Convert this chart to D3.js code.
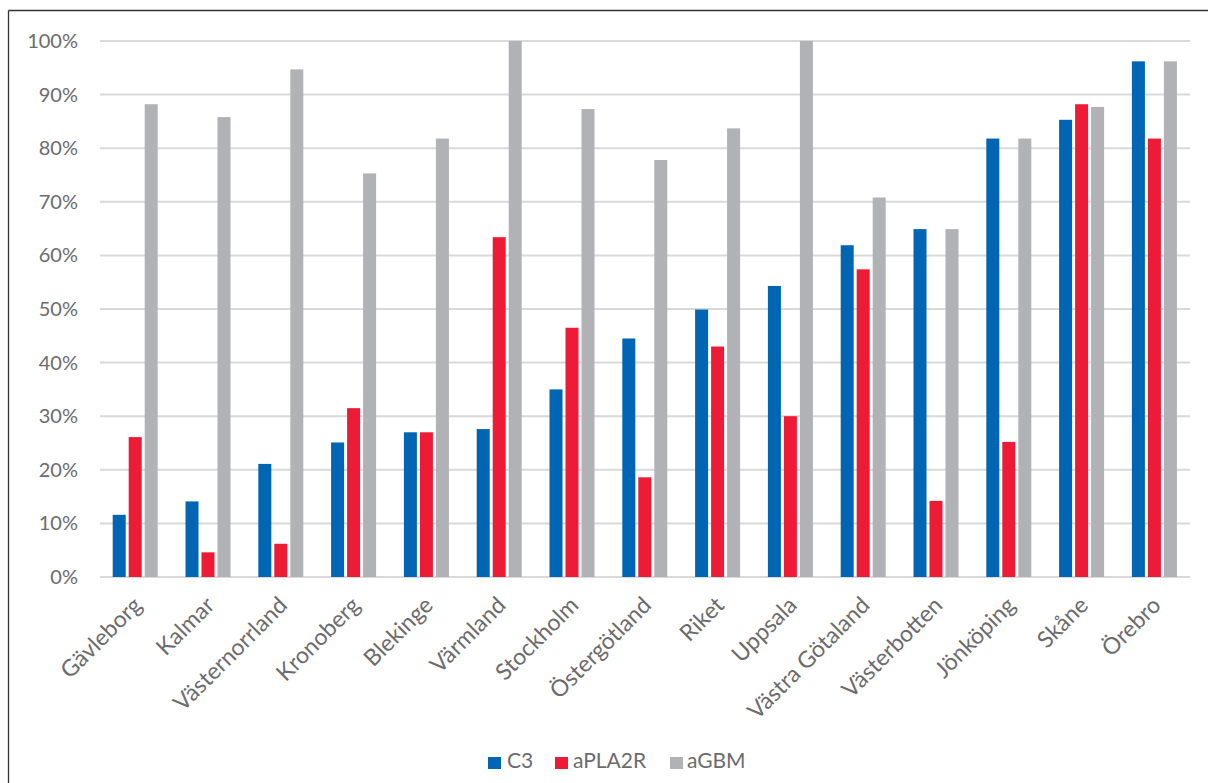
<!DOCTYPE html>
<html>
<head>
<meta charset="utf-8">
<script src="https://cdn.jsdelivr.net/npm/d3@7"></script>
<style>
  html, body { margin: 0; padding: 0; background: #fff; }
  svg { display: block; }
  text { font-family: Lato, "Open Sans", sans-serif; fill: #6b6b6e; }
</style>
</head>
<body>
<svg id="chart" width="1208" height="783"></svg>
<script>
const categories = ["Gävleborg","Kalmar","Västernorrland","Kronoberg","Blekinge","Värmland","Stockholm","Östergötland","Riket","Uppsala","Västra Götaland","Västerbotten","Jönköping","Skåne","Örebro"];
const seriesNames = ["C3","aPLA2R","aGBM"];
const c3     = [11.6, 14.1, 21.1, 25.1, 27.0, 27.6, 35.0, 44.5, 49.9, 54.3, 61.9, 64.9, 81.8, 85.3, 96.2];
const apla2r = [26.1,  4.6,  6.2, 31.5, 27.0, 63.4, 46.5, 18.6, 43.0, 30.0, 57.4, 14.2, 25.2, 88.2, 81.8];
const agbm   = [88.2, 85.8, 94.7, 75.3, 81.8, 100,  87.3, 77.8, 83.7, 100,  70.8, 64.9, 81.8, 87.7, 96.2];
const yTicks = [0, 10, 20, 30, 40, 50, 60, 70, 80, 90, 100];
const colors = ["#0066B3", "#ED1B35", "#B1B2B6"];

const seriesValues = [c3, apla2r, agbm];
const svg = d3.select("#chart");

// frame (top and left edges visible)
svg.append("line").attr("x1", 8.5).attr("x2", 1208).attr("y1", 10.5).attr("y2", 10.5)
  .attr("stroke", "#333").attr("stroke-width", 1.3);
svg.append("line").attr("x1", 8.5).attr("x2", 8.5).attr("y1", 10.5).attr("y2", 783)
  .attr("stroke", "#333").attr("stroke-width", 1.3);

const x0 = d3.scaleBand().domain(categories).range([100, 1192]).paddingInner(0).paddingOuter(0);
const x1 = d3.scaleBand().domain(seriesNames).range([12.7, 57.7]).paddingInner(3/16).paddingOuter(0);
const y = d3.scaleLinear().domain([0, 100]).range([577, 41]);

// gridlines
svg.append("g").selectAll("line").data(yTicks).join("line")
  .attr("x1", 100).attr("x2", 1190)
  .attr("y1", d => y(d)).attr("y2", d => y(d))
  .attr("stroke", "#D9D9D9").attr("stroke-width", 2);

// y axis labels
const yAxis = d3.axisLeft(y).tickValues(yTicks).tickFormat(d => d + "%").tickSize(0).tickPadding(0);
const gy = svg.append("g").attr("transform", "translate(78,0)").call(yAxis);
gy.select(".domain").remove();
gy.selectAll("text").attr("font-size", 20).style("font-family", "Lato, sans-serif").attr("fill", "#6b6b6e");

// bars
const groups = svg.append("g").selectAll("g").data(categories).join("g")
  .attr("transform", d => `translate(${x0(d)},0)`);
groups.selectAll("rect").data((d, i) => seriesNames.map((s, j) => ({ s, j, v: seriesValues[j][i] })))
  .join("rect")
  .attr("x", d => x1(d.s))
  .attr("width", x1.bandwidth())
  .attr("y", d => y(d.v))
  .attr("height", d => y(0) - y(d.v))
  .attr("fill", d => colors[d.j]);

// x axis labels
const xAxis = d3.axisBottom(x0).tickSize(0).tickPadding(0);
const gx = svg.append("g").attr("transform", "translate(0,601)").call(xAxis);
gx.select(".domain").remove();
gx.selectAll("text")
  .attr("font-size", 23)
  .attr("fill", "#6b6b6e")
  .style("font-family", "Lato, sans-serif")
  .attr("text-anchor", "end")
  .attr("y", 0).attr("dy", "0.35em").attr("x", 0)
  .attr("transform", "translate(1,0) rotate(-45)");

// legend
const legendItems = [
  { name: seriesNames[0], x: 488, tx: 507 },
  { name: seriesNames[1], x: 555, tx: 573 },
  { name: seriesNames[2], x: 670, tx: 687 }
];
const lg = svg.append("g");
lg.selectAll("rect").data(legendItems).join("rect")
  .attr("x", d => d.x).attr("y", 757).attr("width", 13).attr("height", 12)
  .attr("fill", (d, i) => colors[i]);
lg.selectAll("text").data(legendItems).join("text")
  .attr("x", d => d.tx).attr("y", 768)
  .attr("font-size", 21)
  .text(d => d.name);
</script>
</body>
</html>
